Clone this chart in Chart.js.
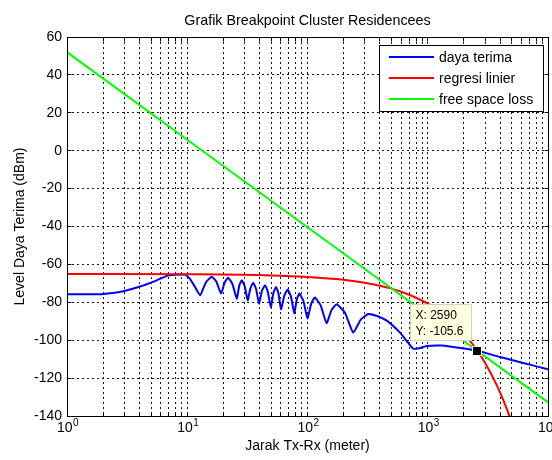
<!DOCTYPE html>
<html>
<head>
<meta charset="utf-8">
<script src="https://cdn.jsdelivr.net/npm/chart.js@4.4.1/dist/chart.umd.min.js"></script>
<style>
html,body{margin:0;padding:0;background:#fff;}
#wrap{width:552px;height:460px;}
</style>
</head>
<body>
<div id="wrap"><canvas id="c" width="552" height="460"></canvas></div>
<script>
// ---- texts ----
const chartTitle = 'Grafik Breakpoint Cluster Residencees';
const xTitle = 'Jarak Tx-Rx (meter)';
const yTitle = 'Level Daya Terima (dBm)';
const seriesNames = ['daya terima', 'regresi linier', 'free space loss'];

// ---- tick values ----
const xTickValues = [1,2,3,4,5,6,7,8,9,10,20,30,40,50,60,70,80,90,100,200,300,400,500,600,700,800,900,1000,2000,3000,4000,5000,6000,7000,8000,9000,10000];
const xLabelValues = [1, 10, 100, 1000, 10000];
const yTickValues = [-140,-120,-100,-80,-60,-40,-20,0,20,40,60];

// ---- series: daya terima (received level) ----
const blueX = [1, 1.5, 1.95, 2.5, 2.94, 4.05, 5.57, 6.96, 8, 9.6, 10.5, 11.5, 12.8, 14.31, 16, 17.48, 19.1, 20.45, 21.9, 23.77, 25.8, 27.07, 28.4, 30.05, 31.8, 33.55, 35.4, 37.39, 39.5, 41.83, 44.3, 46.83, 49.5, 52.04, 54.7, 57.38, 60.2, 64.17, 68.4, 72.85, 77.6, 81.45, 85.5, 92.47, 100, 107.2, 115, 128.7, 144, 158.7, 175, 204.9, 240, 277.1, 320, 380, 456, 588, 680, 759, 850, 980, 1300, 1632, 2000, 2590, 4000, 6000, 10000];
const blueY = [-75.8, -75.8, -75.7, -75.0, -74.2, -71.7, -68.4, -65.8, -65.4, -65.4, -67.5, -71.5, -76.3, -69.4, -66.5, -69.2, -75.4, -69.6, -67.1, -70.4, -78.1, -71.2, -68.3, -71.5, -78.9, -72.5, -69.7, -73.0, -80.7, -73.9, -71, -74.5, -82.5, -75.1, -71.9, -75.4, -83.7, -76.4, -73.3, -77.0, -85.7, -78.5, -75.4, -79.3, -88.5, -80.8, -77.5, -81.6, -91, -84, -81, -85.5, -96, -89.1, -86.2, -87.2, -89.7, -96, -101, -104.5, -104.2, -103, -102.8, -103.6, -104.4, -105.6, -108.9, -111.8, -115.3];

// ---- series: regresi linier ----
const redX = [1, 10, 50, 100, 200, 300, 500, 700, 1000, 1500, 2000, 2590, 3000, 3500, 4000, 4500, 5000];
const redY = [-65, -65.2, -65.8, -66.6, -68.1, -69.7, -72.8, -76, -80.7, -88.5, -96.4, -105.6, -112, -119.9, -127.7, -135.6, -143.4];

// ---- series: free space loss ----
const greenX = [1, 10, 100, 1000, 10000];
const greenY = [52, 5.8, -40.4, -86.6, -132.8];

// ---- data tip ----
const tipX = 2590;
const tipY = -105.6;

const FONT = "'Liberation Sans', Arial, Helvetica, sans-serif";
const toPts = (xs, ys) => xs.map((v, i) => ({x: v, y: ys[i]}));

const overlay = {
  id: 'overlay',
  afterDatasetsDraw(chart) {
    const {ctx, chartArea: a, scales: {x, y}} = chart;
    const al = p => Math.round(p - 0.5) + 0.5;
    const L = al(a.left), R = al(a.right), T = al(a.top), B = al(a.bottom);
    ctx.save();
    ctx.setLineDash([]);
    ctx.strokeStyle = '#000';
    ctx.lineWidth = 1;
    ctx.strokeRect(L, T, R - L, B - T);
    ctx.beginPath();
    xTickValues.forEach(v => {
      const px = al(x.getPixelForValue(v));
      ctx.moveTo(px, B); ctx.lineTo(px, B - 4);
      ctx.moveTo(px, T); ctx.lineTo(px, T + 4);
    });
    yTickValues.forEach(v => {
      const py = al(y.getPixelForValue(v));
      ctx.moveTo(L, py); ctx.lineTo(L + 4, py);
      ctx.moveTo(R, py); ctx.lineTo(R - 4, py);
    });
    ctx.stroke();

    // x tick labels 10^n
    ctx.fillStyle = '#000';
    ctx.textBaseline = 'alphabetic';
    ctx.textAlign = 'left';
    xLabelValues.forEach(v => {
      const e = Math.round(Math.log10(v));
      const px = x.getPixelForValue(v);
      ctx.font = '14px ' + FONT;
      const w = ctx.measureText('10').width;
      const sx = px - 10;
      ctx.fillText('10', sx, 432);
      ctx.font = '10px ' + FONT;
      ctx.fillText(String(e), sx + w + 0.5, 426);
    });

    // legend
    const lx = 379.5, ly = 45.5, lw = 164, lh = 66;
    ctx.fillStyle = '#fff';
    ctx.fillRect(lx, ly, lw, lh);
    ctx.strokeStyle = '#000';
    ctx.lineWidth = 1;
    ctx.strokeRect(lx, ly, lw, lh);
    ctx.font = '14px ' + FONT;
    ctx.textBaseline = 'middle';
    chart.data.datasets.forEach((ds, i) => {
      const cy = 57 + i * 21;
      ctx.strokeStyle = ds.borderColor;
      ctx.lineWidth = 2;
      ctx.beginPath();
      ctx.moveTo(389, cy); ctx.lineTo(434, cy);
      ctx.stroke();
      ctx.fillStyle = '#000';
      ctx.fillText(ds.label, 439, cy + 1);
    });

    // data tip
    const px = x.getPixelForValue(tipX), py = y.getPixelForValue(tipY);
    ctx.fillStyle = 'rgb(255,255,225)';
    ctx.fillRect(Math.round(px) - 5, Math.round(py) - 5, 10, 10);
    ctx.fillStyle = '#000';
    ctx.fillRect(Math.round(px) - 4, Math.round(py) - 4, 8, 8);
    const lines = ['X: ' + tipX, 'Y: ' + tipY];
    ctx.font = '12px ' + FONT;
    const tw = Math.max(...lines.map(s => ctx.measureText(s).width));
    const bw = Math.round(tw + 13), bh = 36;
    const bx = Math.round(px - 6 - bw) + 0.5, by = Math.round(py - 11 - bh) + 0.5;
    ctx.fillStyle = 'rgb(255,255,225)';
    ctx.fillRect(bx, by, bw, bh);
    ctx.strokeStyle = 'rgb(210,210,190)';
    ctx.lineWidth = 1;
    ctx.strokeRect(bx, by, bw, bh);
    ctx.fillStyle = '#000';
    ctx.textBaseline = 'middle';
    lines.forEach((s, i) => ctx.fillText(s, bx + 5, by + 11 + i * 16));
    ctx.restore();
  }
};

new Chart(document.getElementById('c'), {
  type: 'line',
  data: {
    datasets: [
      {label: seriesNames[0], data: toPts(blueX, blueY), borderColor: 'rgb(0,0,255)', borderWidth: 2, pointRadius: 0, tension: 0.15, order: 2},
      {label: seriesNames[1], data: toPts(redX, redY), borderColor: 'rgb(255,0,0)', borderWidth: 2, pointRadius: 0, cubicInterpolationMode: 'monotone', order: 1},
      {label: seriesNames[2], data: toPts(greenX, greenY), borderColor: 'rgb(0,255,0)', borderWidth: 2, pointRadius: 0, order: 0}
    ]
  },
  options: {
    responsive: false,
    animation: false,
    events: [],
    devicePixelRatio: 1,
    layout: {padding: {left: 0, right: 4, top: 0, bottom: 0}, autoPadding: false},
    plugins: {
      legend: {display: false},
      tooltip: {enabled: false},
      title: {display: true, fullSize: false, text: chartTitle, color: '#000', font: {family: FONT, size: 14.3, weight: 'normal'}, padding: {top: 12.4, bottom: 7.44}}
    },
    scales: {
      x: {
        type: 'logarithmic', min: 1, max: 10000,
        afterBuildTicks: s => { s.ticks = xTickValues.map(v => ({value: v, major: xLabelValues.includes(v)})); },
        afterFit: s => { s.height = 44; },
        ticks: {display: false, autoSkip: false},
        grid: {color: 'rgba(0,0,0,0.9)', lineWidth: 1, drawTicks: false},
        border: {display: false, dash: [2, 3]},
        title: {display: true, text: xTitle, color: '#000', font: {family: FONT, size: 14}, padding: {top: 0, bottom: 5}}
      },
      y: {
        type: 'linear', min: -140, max: 60,
        afterBuildTicks: s => { s.ticks = yTickValues.map(v => ({value: v})); },
        afterFit: s => { s.width = 67; },
        ticks: {color: '#000', font: {family: FONT, size: 14}, padding: 5, autoSkip: false},
        grid: {color: 'rgba(0,0,0,0.9)', lineWidth: 1, drawTicks: false},
        border: {display: false, dash: [2, 3]},
        title: {display: true, text: yTitle, color: '#000', font: {family: FONT, size: 14}, padding: {top: 12, bottom: 0}}
      }
    }
  },
  plugins: [overlay]
});
</script>
</body>
</html>
